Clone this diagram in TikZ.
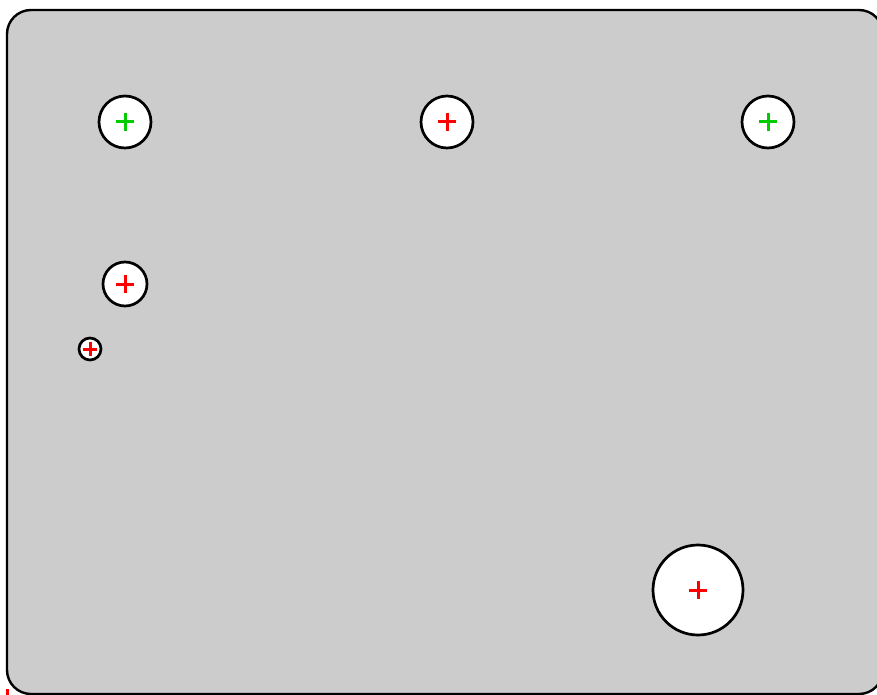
\documentclass[tikz,border=0pt]{standalone}
\usetikzlibrary{calc}
\begin{document}
\begin{tikzpicture}[x=1pt,y=-1pt,
  hole/.style={circle,draw=black,line width=2.7pt,fill=white,inner sep=0pt,minimum size=#1},
  plusmark/.style={line width=3pt}]
\definecolor{bg}{RGB}{204,204,204}
\definecolor{grn}{RGB}{0,204,0}
\useasboundingbox (0,0) rectangle (877,695);
\draw[line width=2.4pt,fill=bg,rounded corners=24pt] (7,10) rectangle (883,694);
\node[hole=52pt] (c1) at (125,122) {};
\node[hole=52pt] (c2) at (447,122) {};
\node[hole=52pt] (c3) at (768,122) {};
\node[hole=44pt] (c4) at (125,284) {};
\node[hole=22pt] (c5) at (90,349) {};
\node[hole=90pt] (c6) at (698,590) {};
\coordinate (o) at (7,698);
\foreach \n/\c/\a in {c1/grn/9,c2/red/9,c3/grn/9,c4/red/9,c5/red/7,c6/red/9,o/red/9}{
  \draw[draw=\c,plusmark] ($(\n.center)+(-\a,0)$) -- ($(\n.center)+(\a,0)$);
  \draw[draw=\c,plusmark] ($(\n.center)+(0,-\a)$) -- ($(\n.center)+(0,\a)$);
}
\end{tikzpicture}
\end{document}
